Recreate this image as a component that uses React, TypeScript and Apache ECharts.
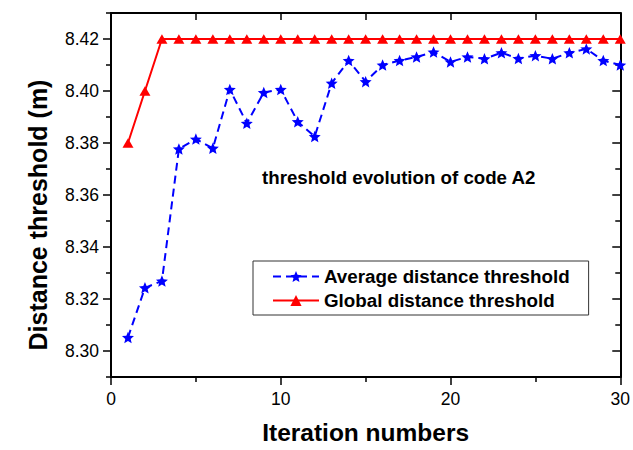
import React, { useEffect, useRef } from "react";
import * as echarts from "echarts";

const iterations = [1, 2, 3, 4, 5, 6, 7, 8, 9, 10, 11, 12, 13, 14, 15, 16, 17, 18, 19, 20, 21, 22, 23, 24, 25, 26, 27, 28, 29, 30];
const averageThreshold = [
  8.3052, 8.3243, 8.3269, 8.3777, 8.3815, 8.378, 8.4006, 8.3876, 8.3994, 8.4006,
  8.3882, 8.3825, 8.403, 8.4117, 8.4036, 8.41, 8.4117, 8.4131, 8.415, 8.4112,
  8.4131, 8.4124, 8.4147, 8.4125, 8.4136, 8.4124, 8.4147, 8.4162, 8.4117, 8.41,
];
const globalThreshold = [
  8.38, 8.4, 8.42, 8.42, 8.42, 8.42, 8.42, 8.42, 8.42, 8.42,
  8.42, 8.42, 8.42, 8.42, 8.42, 8.42, 8.42, 8.42, 8.42, 8.42,
  8.42, 8.42, 8.42, 8.42, 8.42, 8.42, 8.42, 8.42, 8.42, 8.42,
];
const yMajorTicks = [8.3, 8.32, 8.34, 8.36, 8.38, 8.4, 8.42];
const yMinorTicks = [8.29, 8.31, 8.33, 8.35, 8.37, 8.39, 8.41, 8.43];
const seriesNames = ["Average distance threshold", "Global distance threshold"];
const annotation = "threshold evolution of code A2";
const xTitle = "Iteration numbers";
const yTitle = "Distance threshold (m)";

const FONT = "'Liberation Sans', Arial, Helvetica, sans-serif";
const STAR =
  "path://M50,0 L63.2,31.8 L97.55,34.55 L71.4,56.95 L79.4,90.45 L50,72.5 L20.6,90.45 L28.6,56.95 L2.45,34.55 L36.8,31.8 Z";

export default function App() {
  const ref = useRef<HTMLDivElement>(null);
  useEffect(() => {
    document.body.style.margin = "0";
    const chart = echarts.init(ref.current!, null, { renderer: "svg" });
    const yMin = 8.29;
    const yMax = 8.43;
    const axisLine = { show: true, lineStyle: { color: "#000", width: 2 } };
    const hiddenY = (position: string, inside: boolean, ticks: number[], len: number, showLine: boolean) => ({
      type: "value",
      position,
      min: yMin,
      max: yMax,
      axisLine: { ...axisLine, show: showLine },
      splitLine: { show: false },
      axisTick: { show: true, inside, length: len, customValues: ticks, lineStyle: { color: "#000", width: 1.5 } },
      axisLabel: { show: false },
    });
    chart.setOption({
      animation: false,
      textStyle: { fontFamily: FONT },
      grid: { left: 111, right: 10, top: 13, bottom: 70, containLabel: false },
      legend: {
        orient: "vertical",
        left: 253,
        top: 261,
        padding: [6, 19, 5, 19],
        itemGap: 5,
        itemWidth: 46,
        itemHeight: 14,
        borderColor: "#333",
        borderWidth: 1,
        backgroundColor: "#fff",
        textStyle: { fontFamily: FONT, fontSize: 18.8, fontWeight: "bold", color: "#000" },
        data: seriesNames,
      },
      xAxis: [
        {
          type: "value",
          position: "bottom",
          min: 0,
          max: 30,
          interval: 10,
          name: xTitle,
          nameLocation: "middle",
          nameGap: 43,
          nameTextStyle: { fontFamily: FONT, fontSize: 24.5, fontWeight: "bold", color: "#000" },
          axisLine,
          splitLine: { show: false },
          axisTick: { show: true, length: 8, lineStyle: { color: "#000", width: 1.5 } },
          minorTick: { show: true, splitNumber: 2, length: 5, lineStyle: { color: "#000", width: 1.5 } },
          axisLabel: { fontFamily: FONT, fontSize: 17.5, color: "#000", margin: 13 },
        },
        {
          type: "value",
          position: "top",
          min: 0,
          max: 30,
          interval: 5,
          axisLine,
          splitLine: { show: false },
          axisTick: { show: true, inside: true, length: 7, lineStyle: { color: "#000", width: 1.5 } },
          axisLabel: { show: false },
        },
      ],
      yAxis: [
        {
          type: "value",
          position: "left",
          min: yMin,
          max: yMax,
          axisLine,
          splitLine: { show: false },
          axisTick: { show: true, length: 8, customValues: yMajorTicks, lineStyle: { color: "#000", width: 1.5 } },
          axisLabel: {
            fontFamily: FONT,
            fontSize: 17.5,
            color: "#000",
            margin: 12,
            customValues: yMajorTicks,
            formatter: (v: number) => v.toFixed(2),
          },
        },
        hiddenY("left", false, yMinorTicks, 5, false),
        hiddenY("right", true, yMajorTicks, 8, true),
        hiddenY("right", true, yMinorTicks, 5, false),
      ],
      graphic: [
        {
          type: "text",
          left: 262,
          top: 168,
          style: {
            text: annotation,
            fontFamily: FONT,
            fontSize: 18.7,
            fontWeight: "bold",
            fill: "#000",
          },
        },
        {
          type: "text",
          x: 38,
          y: 215,
          rotation: Math.PI / 2,
          style: {
            text: yTitle,
            fontFamily: FONT,
            fontSize: 25,
            fontWeight: "bold",
            fill: "#000",
            align: "center",
            verticalAlign: "middle",
          },
        },
      ],
      series: [
        {
          name: seriesNames[0],
          type: "line",
          xAxisIndex: 0,
          yAxisIndex: 0,
          data: iterations.map((x, i) => [x, averageThreshold[i]]),
          symbol: STAR,
          symbolSize: [12, 11.5],
          itemStyle: { color: "#0000ff" },
          lineStyle: { color: "#0000ff", width: 2, type: [8, 5] },
          z: 3,
        },
        {
          name: seriesNames[1],
          type: "line",
          xAxisIndex: 0,
          yAxisIndex: 0,
          data: iterations.map((x, i) => [x, globalThreshold[i]]),
          symbol: "triangle",
          symbolSize: [11, 9.5],
          itemStyle: { color: "#ff0000" },
          lineStyle: { color: "#ff0000", width: 2 },
          z: 4,
        },
      ],
    });
    return () => chart.dispose();
  }, []);
  return <div ref={ref} style={{ width: 633, height: 450 }} />;
}
